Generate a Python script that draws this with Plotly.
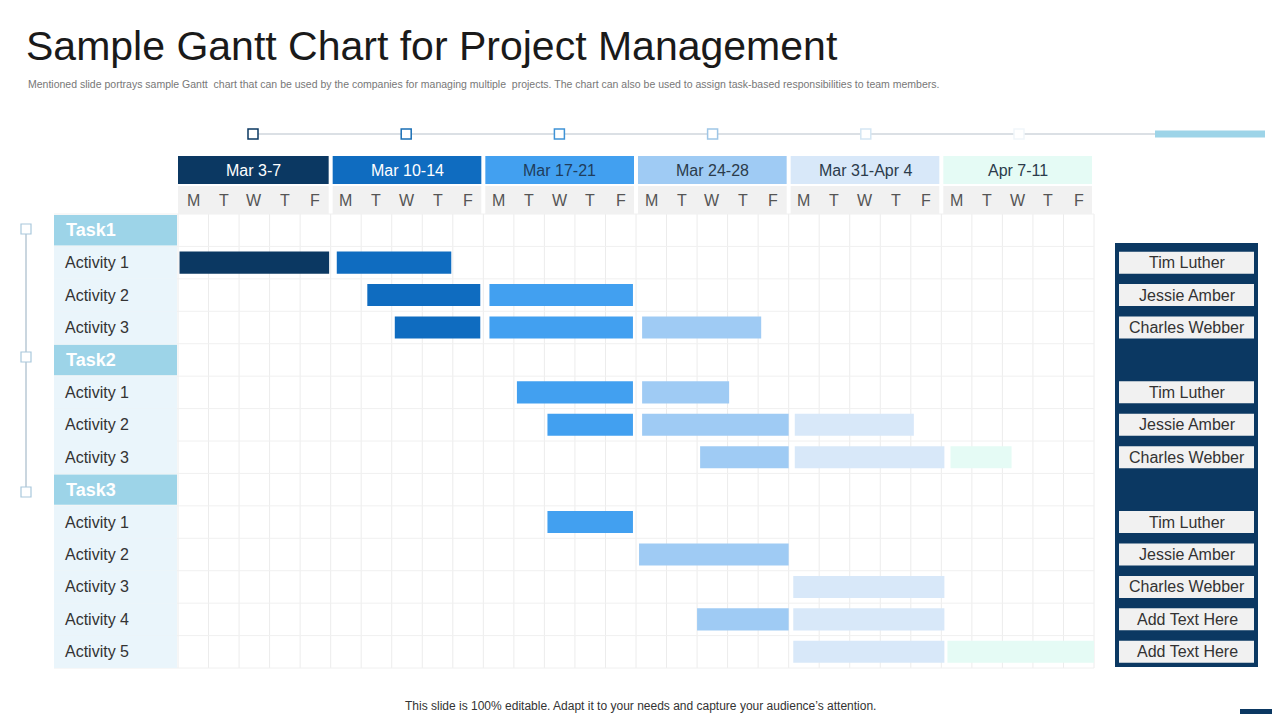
import plotly.graph_objects as go

weeks = ["Mar 3-7", "Mar 10-14", "Mar 17-21", "Mar 24-28", "Mar 31-Apr 4", "Apr 7-11"]
week_colors = ["#0b3862", "#0f6cc0", "#42a0f0", "#9fcbf4", "#d8e8f9", "#e5fbf5"]
week_text = ["white", "white", "#1f3d5c", "#2b3b4b", "#2b3b4b", "#2b3b4b"]
days = ["M", "T", "W", "T", "F"]
rows = ["Task 1", "Activity 1", "Activity 2", "Activity 3", "Task 2", "Activity 1", "Activity 2",
        "Activity 3", "Task 3", "Activity 1", "Activity 2", "Activity 3", "Activity 4", "Activity 5"]
# bars: (row index, start day, end day, week colour index)
bar_row = [1, 1, 2, 2, 3, 3, 3, 5, 5, 6, 6, 6, 7, 7, 7, 9, 10, 11, 12, 12, 13, 13]
bar_start = [0.05, 5.2, 6.2, 10.2, 7.1, 10.2, 15.2, 11.1, 15.2, 12.1, 15.2, 20.2, 17.1, 20.2, 25.3,
             12.1, 15.1, 20.15, 17.0, 20.15, 20.15, 25.2]
bar_end = [4.95, 8.95, 9.9, 14.9, 9.9, 14.9, 19.1, 14.9, 18.05, 14.9, 20.0, 24.1, 20.0, 25.1, 27.3,
           14.9, 20.0, 25.1, 20.0, 25.1, 25.1, 30.0]
bar_col = [0, 1, 1, 2, 1, 2, 3, 2, 3, 2, 3, 4, 3, 4, 5, 2, 3, 4, 3, 4, 4, 5]
names = ["Tim Luther", "Jessie Amber", "Charles Webber", "Tim Luther", "Jessie Amber", "Charles Webber",
         "Tim Luther", "Jessie Amber", "Charles Webber", "Add Text Here", "Add Text Here"]
name_rows = [1, 2, 3, 5, 6, 7, 9, 10, 11, 12, 13]

PX_DAY = (1094 - 178) / 30
PX_ROW = (668 - 214) / 14
def X(px): return (px - 178) / PX_DAY
def Y(py): return (py - 214) / PX_ROW

fig = go.Figure()
shapes, ann = [], []
def rect(x0, y0, x1, y1, color, layer="below", line=None):
    shapes.append(dict(type="rect", x0=X(x0), x1=X(x1), y0=Y(y0), y1=Y(y1), fillcolor=color,
                       line=dict(width=0) if line is None else line, layer=layer))
def text(px, py, s, size, color, xanchor="center", bold=False, family="Liberation Sans"):
    ann.append(dict(x=X(px), y=Y(py), text=f"<b>{s}</b>" if bold else s, showarrow=False, xanchor=xanchor,
                    yanchor="middle", font=dict(size=size, color=color, family=family)))

# top decoration
rect(0, 5, 268, 8, "#9dd4e8"); rect(275, 5, 1280, 8, "#0b3862")
rect(1240, 709, 1272, 714, "#0b3862")
# timeline
shapes.append(dict(type="line", x0=X(253), x1=X(1155), y0=Y(134), y1=Y(134), line=dict(color="#cfd6dc", width=1.5), layer="below"))
rect(1155, 130.5, 1265, 137.5, "#9dd4e8")
for i, c in enumerate(["#0b3862", "#1a6fb5", "#3f93d6", "#9fc6e6", "#d5e6f3", "#f1f6fa"]):
    cx = 253 + i * 153.2
    rect(cx - 5, 129, cx + 5, 139, "white", layer="above", line=dict(color=c, width=1.5))
# left vertical line
shapes.append(dict(type="line", x0=X(26), x1=X(26), y0=Y(229), y1=Y(492), line=dict(color="#b8c8d4", width=1.5), layer="below"))
for py in [229, 357, 492]:
    rect(21, py - 5, 31, py + 5, "white", layer="above", line=dict(color="#a9c8dc", width=1.2))

# week headers
for i, w in enumerate(weeks):
    x0 = 178 + i * 5 * PX_DAY + (2 if i else 0)
    x1 = 178 + (i + 1) * 5 * PX_DAY - 2
    rect(x0, 156, x1, 184, week_colors[i])
    rect(x0, 186, x1, 214, "#f1f1f1")
    text((x0 + x1) / 2, 170, w, 16, week_text[i])
    for d in range(5):
        text(178 + (i * 5 + d + 0.5) * PX_DAY, 200, days[d], 16, "#555555")
# grid
for d in range(31):
    shapes.append(dict(type="line", x0=d, x1=d, y0=0, y1=14, line=dict(color="#ececec", width=1), layer="below"))
for r in range(15):
    shapes.append(dict(type="line", x0=X(54), x1=30, y0=r, y1=r, line=dict(color="#f0f0f0", width=1), layer="below"))
# left labels
for r, lab in enumerate(rows):
    y0 = 214 + r * PX_ROW
    if lab.startswith("Task"):
        rect(54, y0 + 1, 177, y0 + PX_ROW - 1, "#9dd4e8")
        text(64, y0 + PX_ROW / 2, lab.replace(" ", ""), 18, "white", "left", True)
    else:
        rect(54, y0, 177, y0 + PX_ROW, "#eaf5fb")
        text(63, y0 + PX_ROW / 2, lab, 16, "#333333", "left")

# bars
for ci in range(6):
    idx = [k for k in range(len(bar_row)) if bar_col[k] == ci]
    fig.add_trace(go.Bar(orientation="h", y=[bar_row[k] + 0.5 for k in idx],
                         x=[bar_end[k] - bar_start[k] for k in idx], base=[bar_start[k] for k in idx],
                         width=0.68, marker=dict(color=week_colors[ci], line=dict(width=0)),
                         showlegend=False, hoverinfo="skip"))

# right panel
rect(1115, 243, 1258, 667, "#0b3862", layer="above")
for n, r in zip(names, name_rows):
    cy = 214 + (r + 0.5) * PX_ROW
    rect(1119, cy - 11, 1254, cy + 11, "#f1f1f1", layer="above")
    text(1187, cy, n, 16, "#333333")

# titles
text(24, 46, "Sample Gantt Chart for Project Management", 41, "#1a1a1a", "left", family="Liberation Sans")
text(26, 84, "Mentioned slide portrays sample Gantt  chart that can be used by the companies for managing multiple  projects. The chart can also be used to assign task-based responsibilities to team members.",
     10.5, "#777777", "left")
text(640, 706, "This slide is 100% editable. Adapt it to your needs and capture your audience’s attention.", 12, "#333333")

OFF = 8
fig.update_layout(width=1280, height=720, margin=dict(l=0, r=0, t=0, b=0), plot_bgcolor="white",
                  paper_bgcolor="white", shapes=shapes, annotations=ann, barmode="overlay",
                  xaxis=dict(range=[X(OFF), X(1280 + OFF)], visible=False, fixedrange=True),
                  yaxis=dict(range=[Y(720 + OFF), Y(OFF)], visible=False, fixedrange=True))
fig.write_html("out.html", config={"displayModeBar": False})
